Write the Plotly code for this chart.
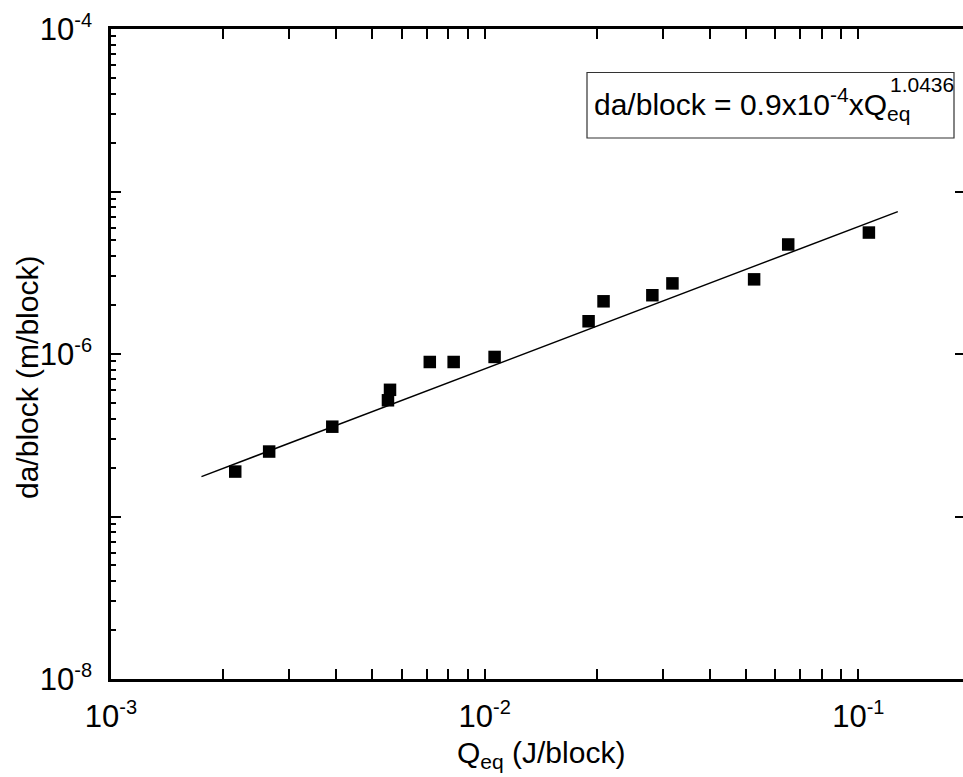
import plotly.graph_objects as go

# Equivalent energy per block and crack growth per block
q_eq = [2.15e-3, 2.65e-3, 3.91e-3, 5.51e-3, 5.58e-3, 7.13e-3, 8.26e-3, 1.063e-2,
        1.897e-2, 2.08e-2, 2.81e-2, 3.18e-2, 5.26e-2, 6.49e-2, 0.1067]
da_block = [1.89e-7, 2.51e-7, 3.57e-7, 5.19e-7, 6.02e-7, 8.93e-7, 8.93e-7, 9.59e-7,
            1.59e-6, 2.11e-6, 2.30e-6, 2.72e-6, 2.88e-6, 4.72e-6, 5.59e-6]

# Power-law fit line end points
fit_q = [1.746e-3, 0.1275]
fit_da = [1.76e-7, 7.52e-6]

x_tickvals = [1e-3, 1e-2, 1e-1]
x_exponents = ["-3", "-2", "-1"]
y_tickvals = [1e-8, 1e-7, 1e-6, 1e-5, 1e-4]
y_exponents = ["-8", "", "-6", "", "-4"]

W, H = 963, 777
L, R, T, B = 111, 0, 29, 98
PW, PH = W - L - R, H - T - B
FONT = "Liberation Sans, Arial, sans-serif"


def px(x):
    return (x - L) / PW


def py(y):
    return (H - B - y) / PH


def pow10(exp):
    if not exp:
        return ""
    return "10<sup><span style='font-size:20px'>%s</span></sup>" % exp


fig = go.Figure()
fig.add_trace(go.Scatter(x=fit_q, y=fit_da, mode="lines",
                         line=dict(color="black", width=1.5), showlegend=False,
                         hoverinfo="skip"))
fig.add_trace(go.Scatter(x=q_eq, y=da_block, mode="markers",
                         marker=dict(symbol="square", size=12.5, color="black",
                                     line=dict(width=0)),
                         showlegend=False))
fig.add_trace(go.Scatter(x=[], y=[], yaxis="y2", showlegend=False))

axis_common = dict(
    type="log", showgrid=False, zeroline=False, showline=True,
    linecolor="black", linewidth=2.5, ticks="inside", ticklen=10,
    tickwidth=2, tickcolor="black", tickmode="array",
    tickfont=dict(family=FONT, size=31, color="black"),
    minor=dict(ticks="inside", ticklen=5, tickwidth=2, tickcolor="black",
               dtick="D1", showgrid=False),
)

fig.update_layout(
    width=W, height=H,
    margin=dict(l=L, r=R, t=T, b=B, pad=0),
    paper_bgcolor="white", plot_bgcolor="white",
    font=dict(family=FONT, color="black"),
    xaxis=dict(axis_common, range=[-3, -0.72], tickvals=x_tickvals,
               ticktext=[pow10(e) for e in x_exponents], mirror="allticks",
               ticklabelstandoff=8),
    yaxis=dict(axis_common, range=[-8, -4], tickvals=y_tickvals,
               ticktext=[pow10(e) for e in y_exponents], mirror=False,
               ticklabelstandoff=10),
    yaxis2=dict(type="log", overlaying="y", side="right", range=[-8, -4],
                showgrid=False, zeroline=False, showline=False,
                ticks="inside", ticklen=8, tickwidth=2, tickcolor="black",
                tickmode="array", tickvals=y_tickvals, showticklabels=False),
)

# Equation box
fig.add_shape(type="rect", xref="paper", yref="paper",
              x0=px(587), x1=px(954), y0=py(138), y1=py(72.5),
              line=dict(color="#333333", width=1.2), fillcolor="white",
              layer="above")

annotations = [
    dict(text="da/block = 0.9x10<sup>-4</sup>xQ<sub>eq</sub>",
         x=px(912), y=py(104), xanchor="right", yanchor="middle",
         font=dict(size=30)),
    dict(text="1.0436", x=px(888), y=py(85), xanchor="left",
         yanchor="middle", font=dict(size=21)),
    dict(text="Q<sub>eq</sub> (J/block)", x=px(541), y=py(754),
         xanchor="center", yanchor="middle", font=dict(size=30)),
    dict(text="da/block (m/block)", x=px(27), y=py(378), textangle=-90,
         xanchor="center", yanchor="middle", font=dict(size=30)),
]
for a in annotations:
    fig.add_annotation(xref="paper", yref="paper", showarrow=False,
                       font_family=FONT, font_color="black", **a)

fig.write_html("out.html")
